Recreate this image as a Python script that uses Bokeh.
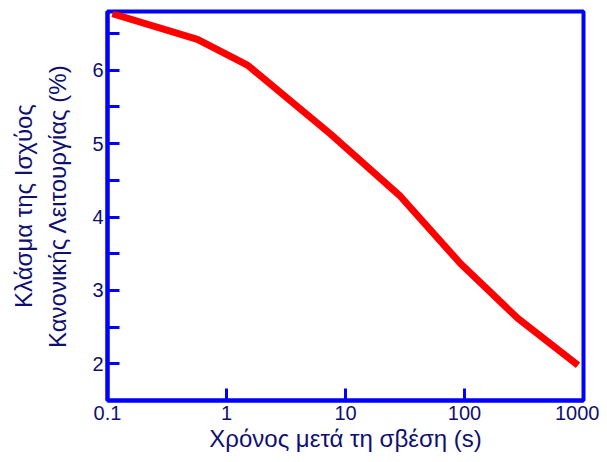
from bokeh.plotting import figure
from bokeh.models import FixedTicker, Range1d, Title
from bokeh.embed import file_html
from bokeh.resources import INLINE

# data
time_s = [0.11, 0.57, 1.5, 7.5, 29, 92, 280, 900]
power_pct = [6.77, 6.42, 6.07, 5.13, 4.28, 3.37, 2.62, 1.98]

x_ticks = [0.1, 1, 10, 100, 1000]
x_tick_labels = ["0.1", "1", "10", "100", "1000"]
y_ticks = [2, 3, 4, 5, 6]
y_minor = [2.5, 3.5, 4.5, 5.5, 6.5]

BLUE = "#0000ff"
NAVY = "#101070"
FONT = "Liberation Sans"

p = figure(width=599, height=454, x_axis_type="log",
           x_range=Range1d(0.1, 1000), y_range=Range1d(1.5, 6.8),
           output_backend="svg", toolbar_location=None,
           min_border_left=107, min_border_right=16,
           min_border_top=11, min_border_bottom=51)

p.line(time_s, power_pct, line_color="#ff0000", line_width=7)

p.grid.visible = False
p.outline_line_color = BLUE
p.outline_line_width = 4
p.outline_line_alpha = 1.0

for ax in (p.xaxis[0], p.yaxis[0]):
    ax.axis_line_color = BLUE
    ax.axis_line_width = 4
    ax.major_tick_line_color = BLUE
    ax.major_tick_line_width = 3
    ax.major_tick_in = 12
    ax.major_tick_out = 0
    ax.minor_tick_line_color = BLUE
    ax.minor_tick_line_width = 3
    ax.minor_tick_in = 12
    ax.minor_tick_out = 0
    ax.major_label_text_font = FONT
    ax.major_label_text_font_size = "20px"
    ax.major_label_text_color = NAVY
    ax.axis_label_text_font = FONT
    ax.axis_label_text_font_size = "24px"
    ax.axis_label_text_font_style = "normal"
    ax.axis_label_text_color = NAVY

p.xaxis.ticker = FixedTicker(ticks=x_ticks)
p.xaxis.major_label_overrides = {t: l for t, l in zip(x_ticks, x_tick_labels)}
p.xaxis.minor_tick_line_color = None
p.xaxis.major_label_standoff = 5
p.xaxis.axis_label = "Χρόνος μετά τη σβέση (s)"
p.xaxis.axis_label_standoff = 2

p.yaxis.ticker = FixedTicker(ticks=y_ticks, minor_ticks=y_minor)
p.yaxis.major_label_standoff = 4
p.yaxis.axis_label = "Κανονικής Λειτουργίας (%)"
p.yaxis.axis_label_standoff = 18

t = Title(text="Κλάσμα της Ισχύος", align="center", text_font=FONT,
          text_font_size="24px", text_font_style="normal", text_color=NAVY)
p.add_layout(t, "left")

open("out.html", "w").write(file_html(p, INLINE))
